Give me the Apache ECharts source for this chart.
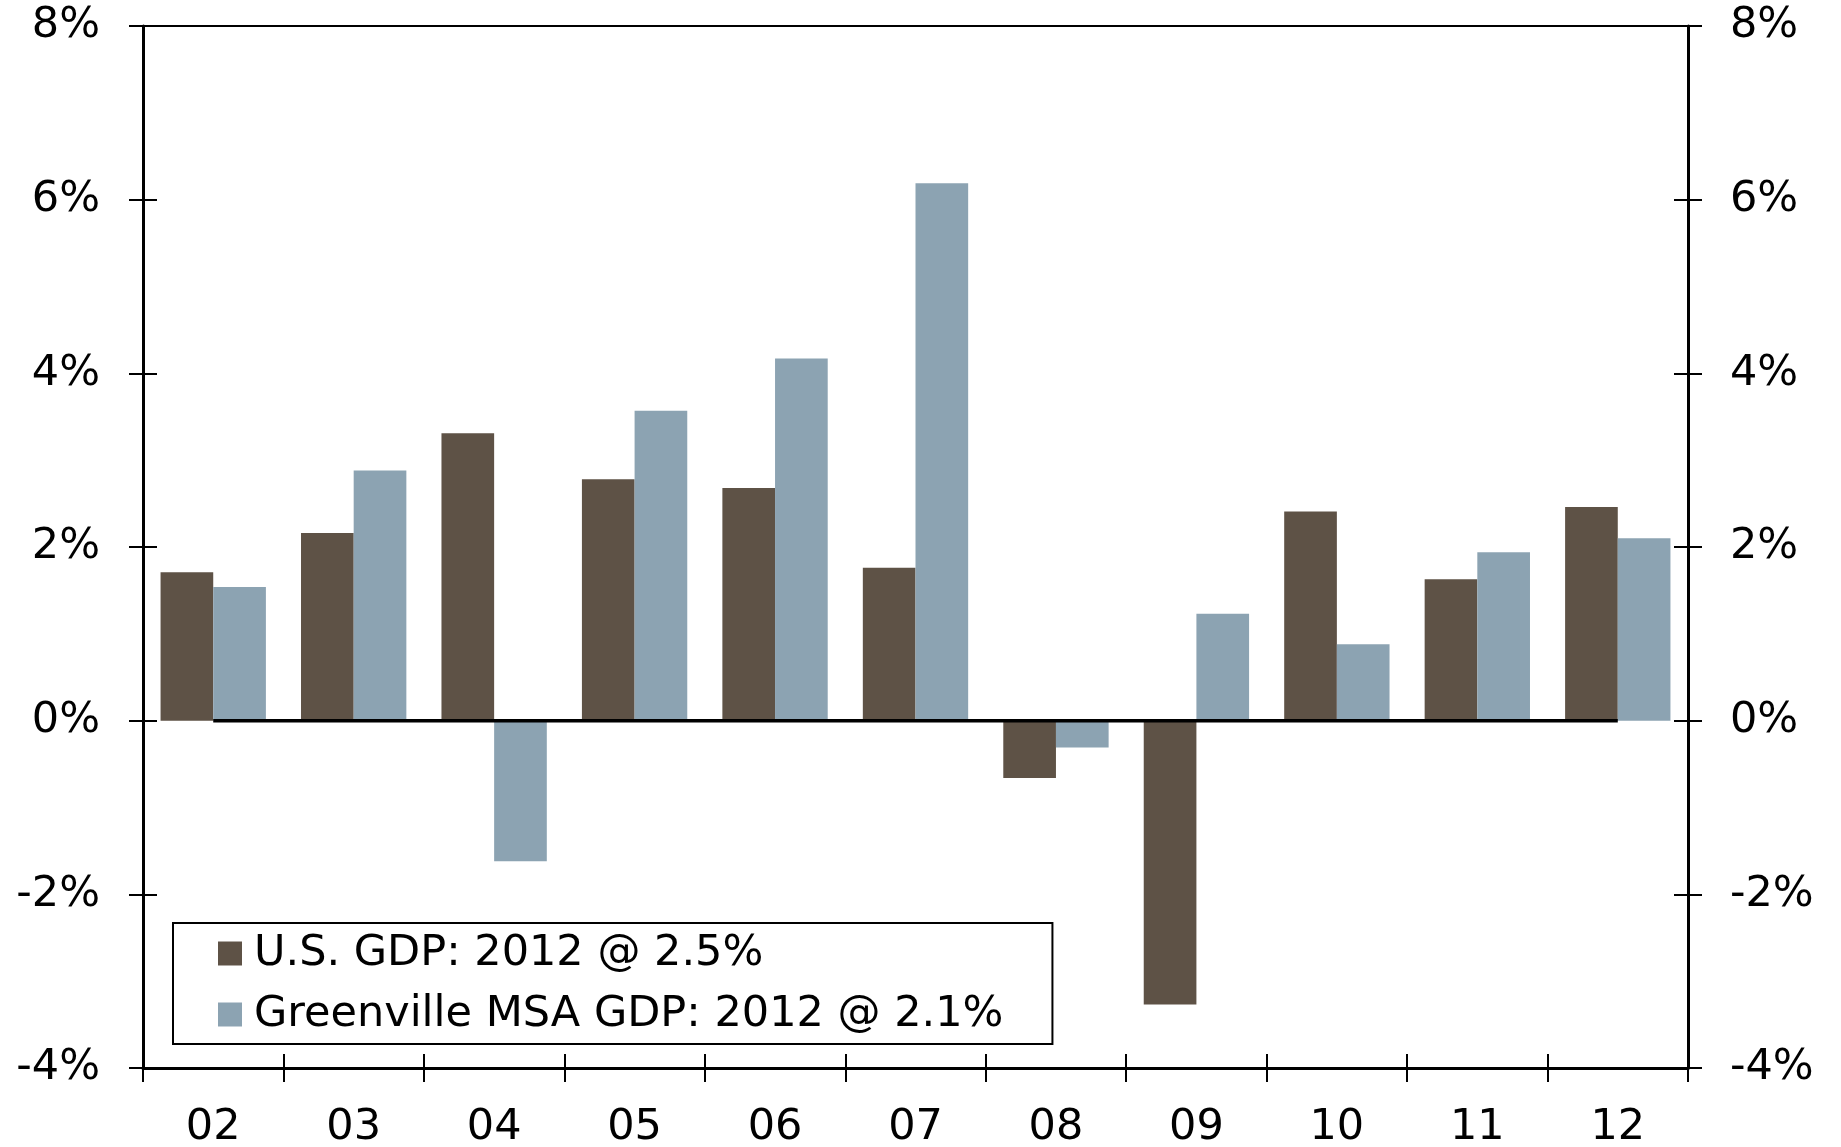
<!DOCTYPE html>
<html>
<head>
<meta charset="utf-8">
<script src="https://cdn.jsdelivr.net/npm/echarts@6/dist/echarts.min.js"></script>
<style>
html,body{margin:0;padding:0;background:#fff;}
#c{width:1841px;height:1147px;}
</style>
</head>
<body>
<div id="c"></div>
<script>
const categories = ['02','03','04','05','06','07','08','09','10','11','12'];
const usGdp = [1.71, 2.16, 3.31, 2.78, 2.68, 1.76, -0.66, -3.27, 2.41, 1.63, 2.46];
const greenvilleGdp = [1.54, 2.88, -1.62, 3.57, 4.17, 6.19, -0.31, 1.23, 0.88, 1.94, 2.10];
const seriesNames = ['U.S. GDP: 2012 @ 2.5%', 'Greenville MSA GDP: 2012 @ 2.1%'];
const zeroLine = [[categories[0], 0], [categories[categories.length - 1], 0]];
const yMin = -4, yMax = 8, yInterval = 2;

const FONT = '"DejaVu Sans", Verdana, sans-serif';
const BLACK = '#000';

function valueAxis(pos, withLabels, inside) {
  return {
    type: 'value', position: pos, min: yMin, max: yMax, interval: yInterval,
    splitLine: { show: false },
    axisLine: { show: withLabels, lineStyle: { color: BLACK, width: 3 } },
    axisTick: { show: true, inside: inside, length: 14, lineStyle: { color: BLACK, width: 2 } },
    axisLabel: {
      show: withLabels, formatter: '{value}%', color: BLACK, fontSize: 43,
      fontFamily: FONT, margin: pos === 'left' ? 43 : 42, padding: [5, 0, 0, 0]
    }
  };
}

const chart = echarts.init(document.getElementById('c'));
chart.setOption({
  animation: false,
  backgroundColor: '#fff',
  grid: { left: 143, right: 153, top: 26, bottom: 79, containLabel: false, outerBoundsMode: 'none' },
  legend: {
    orient: 'vertical', left: 173, top: 923,
    data: seriesNames,
    icon: 'rect', itemWidth: 24, itemHeight: 24, itemGap: 18,
    padding: [9, 49, 8, 45],
    borderColor: BLACK, borderWidth: 2, backgroundColor: '#fff',
    textStyle: { fontSize: 43, lineHeight: 40, color: BLACK, fontFamily: FONT, padding: [0, 0, 0, 7] }
  },
  xAxis: [
    {
      type: 'category', data: categories, position: 'bottom',
      axisLine: { onZero: false, lineStyle: { color: BLACK, width: 3 } },
      axisTick: { show: true, length: 14, lineStyle: { color: BLACK, width: 2 } },
      axisLabel: { color: BLACK, fontSize: 43, fontFamily: FONT, margin: 38 },
      splitLine: { show: false }
    },
    {
      type: 'category', data: categories, position: 'bottom',
      axisLine: { show: false, onZero: false },
      axisTick: { show: true, inside: true, length: 14, lineStyle: { color: BLACK, width: 2 } },
      axisLabel: { show: false },
      splitLine: { show: false }
    },
    {
      type: 'category', data: categories, position: 'top',
      axisLine: { onZero: false, lineStyle: { color: BLACK, width: 2 } },
      axisTick: { show: false },
      axisLabel: { show: false },
      splitLine: { show: false }
    }
  ],
  yAxis: [
    valueAxis('left', true, false),
    valueAxis('left', false, true),
    valueAxis('right', true, false),
    valueAxis('right', false, true)
  ],
  series: [
    {
      name: seriesNames[0], type: 'bar', data: usGdp,
      xAxisIndex: 0, yAxisIndex: 0,
      barGap: '0%', barCategoryGap: '25%',
      itemStyle: { color: '#5E5246' }
    },
    {
      name: seriesNames[1], type: 'bar', data: greenvilleGdp,
      xAxisIndex: 0, yAxisIndex: 0,
      barGap: '0%', barCategoryGap: '25%',
      itemStyle: { color: '#8CA3B2' }
    },
    {
      name: 'zero', type: 'line', data: zeroLine,
      xAxisIndex: 0, yAxisIndex: 0, z: 5,
      symbol: 'none', silent: true,
      lineStyle: { color: BLACK, width: 3.5 },
      tooltip: { show: false }
    }
  ]
});
</script>
</body>
</html>
